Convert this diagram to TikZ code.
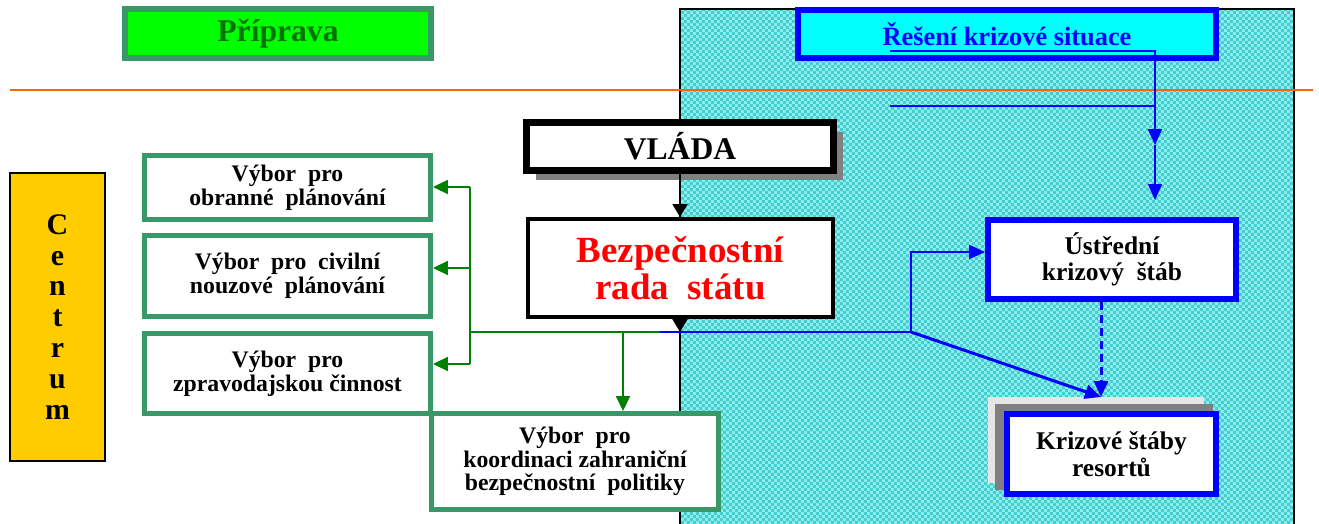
\documentclass[tikz,border=0pt]{standalone}
\usepackage{fontspec}
\setmainfont{Liberation Serif}
\usetikzlibrary{arrows.meta,shadows,patterns}
\definecolor{boxgreen}{RGB}{56,152,104}
\definecolor{arrowgreen}{RGB}{0,128,0}
\definecolor{pripravatext}{RGB}{0,115,0}
\definecolor{pripravagreen}{RGB}{0,255,0}
\definecolor{krizeblue}{RGB}{0,0,255}
\definecolor{resenicyan}{RGB}{0,255,255}
\definecolor{hatchlight}{RGB}{140,238,238}
\definecolor{hatchdark}{RGB}{70,205,205}
\definecolor{centrumgold}{RGB}{255,204,0}
\definecolor{oranzova}{RGB}{255,102,0}
\definecolor{shadowgray}{RGB}{128,128,128}
\pgfdeclarepatternformonly{fine checker}{\pgfpointorigin}{\pgfqpoint{3.4pt}{3.4pt}}{\pgfqpoint{3.4pt}{3.4pt}}{%
  \pgfpathrectangle{\pgfpointorigin}{\pgfqpoint{1.7pt}{1.7pt}}%
  \pgfpathrectangle{\pgfqpoint{1.7pt}{1.7pt}}{\pgfqpoint{1.7pt}{1.7pt}}%
  \pgfusepath{fill}}

\begin{document}
\begin{tikzpicture}[x=0.02cm, y=-0.02cm,
    vybor-node/.style={draw=boxgreen, line width=0.1cm, fill=white, inner sep=0pt, align=center,
        font=\bfseries\fontsize{13.5}{13.5}\selectfont, minimum width=5.72cm},
    krize-node/.style={draw=krizeblue, line width=0.12cm, fill=white, inner sep=0pt, align=center,
        font=\bfseries\fontsize{14.5}{15}\selectfont},
    green-line/.style={draw=arrowgreen, line width=0.04cm},
    green-arrow/.style={green-line, -{Triangle[length=0.3cm,width=0.28cm]}},
    blue-line/.style={draw=krizeblue, line width=0.04cm},
    blue-arrow/.style={blue-line, -{Triangle[length=0.32cm,width=0.28cm]}},
    black-arrow/.style={line width=0.04cm, -{Triangle[length=0.26cm,width=0.3cm]}}
  ]
    \useasboundingbox (0,0) rectangle (1319,524);

    % Reseni area
    \fill[hatchlight] (680,9) rectangle (1294,530);
    \fill[pattern=fine checker, pattern color=hatchdark] (680,9) rectangle (1294,530);
    \draw[line width=0.03cm] (680,530) -- (680,9) -- (1294,9) -- (1294,530);
    \draw[oranzova, line width=0.04cm] (10,90) -- (1313,90);

    \node[draw=boxgreen, line width=0.12cm, fill=pripravagreen, minimum width=6.12cm, minimum height=0.98cm,
        inner sep=0pt, text=pripravatext, font=\bfseries\fontsize{18}{18}\selectfont] (PR) at (278,33.5) {Příprava};
    \node[draw=krizeblue, line width=0.12cm, fill=resenicyan, minimum width=8.36cm, minimum height=0.96cm,
        inner sep=0pt, text=krizeblue, font=\bfseries\fontsize{15}{15}\selectfont] (RKS) at (1007,34) {Řešení krizové situace};

    \node[draw, line width=0.14cm, fill=white, minimum width=6.14cm, minimum height=0.96cm, inner sep=0pt,
        font=\bfseries\fontsize{18}{18}\selectfont,
        drop shadow={shadow xshift=0.19cm, shadow yshift=-0.19cm, fill=shadowgray, opacity=1}] (V) at (680,146.5) {VLÁDA};
    \node[draw, line width=0.07cm, fill=white, minimum width=6.11cm, minimum height=1.97cm, inner sep=0pt,
        align=center, text=red, font=\bfseries\fontsize{21}{21}\selectfont] (BRS) at (680.5,268) {Bezpečnostní\\rada~ státu};

    \node[draw, line width=0.03cm, fill=centrumgold, minimum width=1.91cm, minimum height=5.77cm, inner sep=0pt,
        align=center, font=\bfseries\fontsize{17}{17.6}\selectfont] (C) at (57.5,317) {C\\e\\n\\t\\r\\u\\m};

    \node[vybor-node, minimum height=1.28cm] (OP) at (287.5,187.5) {Výbor~ pro\\obranné~ plánování};
    \node[vybor-node, minimum height=1.62cm] (CNP) at (287.5,276) {Výbor~ pro~ civilní\\nouzové~ plánování};
    \node[vybor-node, minimum height=1.6cm] (ZC) at (287.5,373.5) {Výbor~ pro\\zpravodajskou činnost};
    \node[vybor-node, minimum width=5.74cm, minimum height=1.92cm] (KZP) at (575,461.5) {Výbor~ pro\\koordinaci zahraniční\\bezpečnostní~ politiky};

    \node[krize-node, minimum width=4.96cm, minimum height=1.58cm] (UKS) at (1112,259.5) {Ústřední\\krizový~ štáb};
    \fill[gray!20] (988,397) rectangle (1204,483);
    \fill[shadowgray] (995,404) rectangle (1213,490);
    \node[krize-node, minimum width=4.18cm, minimum height=1.6cm] (KSR) at (1111.5,454) {Krizové štáby\\resortů};

    \coordinate (r1) at (890,51);
    \coordinate (r2) at (1155,51);
    \coordinate (r3) at (1155,145);
    \coordinate (r4) at (1155,200);
    \coordinate (r5) at (890,106);
    \coordinate (r6) at (1155,106);
    \coordinate (j) at (680,332);
    \coordinate (g0) at (660,332);
    \coordinate (g1) at (470,332);
    \coordinate (ga) at (470,187);
    \coordinate (gb) at (470,268);
    \coordinate (gc) at (470,364);
    \coordinate (gd) at (623,332);
    \coordinate (b1) at (911,332);
    \coordinate (b2) at (911,252);
    \coordinate (k0) at (1101,397);

    % Edges
    \draw[blue-arrow] (r1) -- (r2) -- (r3);
    \draw[blue-arrow] (r3) -- (r4);
    \draw[blue-line] (r5) -- (r6);
    \draw[black-arrow] (V.south) -- (V.south |- BRS.north);
    \draw[black-arrow] (BRS.south -| j) -- (j);
    \draw[green-line] (g0) -- (g1);
    \draw[green-line] (ga) -- (gc);
    \draw[green-arrow] (ga) -- (ga -| OP.east);
    \draw[green-arrow] (gb) -- (gb -| CNP.east);
    \draw[green-arrow] (gc) -- (gc -| ZC.east);
    \draw[green-arrow] (gd) -- (gd |- KZP.north);
    \draw[blue-line] (g0) -- (b1);
    \draw[blue-arrow] (b1) -- (b2) -- (b2 -| UKS.west);
    \draw[blue-arrow, line width=0.06cm] (b1) -- (k0);
    \draw[blue-arrow, line width=0.06cm, dash pattern=on 0.16cm off 0.1cm] (UKS.south -| k0) -- (k0);
\end{tikzpicture}
\end{document}
